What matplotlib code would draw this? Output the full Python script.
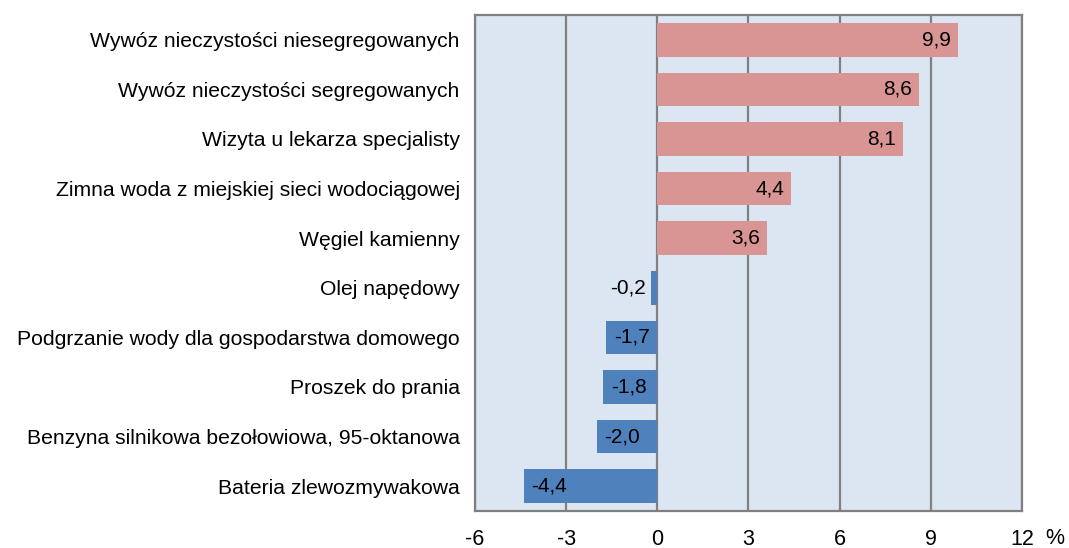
import matplotlib.pyplot as plt

categories = [
    "Wywóz nieczystości niesegregowanych",
    "Wywóz nieczystości segregowanych",
    "Wizyta u lekarza specjalisty",
    "Zimna woda z miejskiej sieci wodociągowej",
    "Węgiel kamienny",
    "Olej napędowy",
    "Podgrzanie wody dla gospodarstwa domowego",
    "Proszek do prania",
    "Benzyna silnikowa bezołowiowa, 95-oktanowa",
    "Bateria zlewozmywakowa",
]
values = [9.9, 8.6, 8.1, 4.4, 3.6, -0.2, -1.7, -1.8, -2.0, -4.4]
xticks = [-6, -3, 0, 3, 6, 9, 12]

plt.rcParams['font.family'] = ['Liberation Sans', 'DejaVu Sans']

fig = plt.figure(figsize=(10.69, 5.48), dpi=100)
ax = fig.add_axes([475 / 1069, 1 - 511 / 548, (1022 - 475) / 1069, (511 - 15) / 548])

pos = list(range(len(categories)))[::-1]
colors = ['#d99594' if v > 0 else '#4f81bd' for v in values]
ax.set_facecolor('#dce6f2')
ax.barh(pos, values, height=0.68, color=colors, zorder=3)

for p, v in zip(pos, values):
    txt = f"{v:.1f}".replace('.', ',')
    if v > 0:
        ax.annotate(txt, (v, p), xytext=(-7, 0), textcoords='offset pixels',
                    ha='right', va='center', fontsize=15, zorder=4)
    elif v > -1:
        ax.annotate(txt, (v, p), xytext=(-5, 0), textcoords='offset pixels',
                    ha='right', va='center', fontsize=15, zorder=4)
    else:
        ax.annotate(txt, (v, p), xytext=(8, 0), textcoords='offset pixels',
                    ha='left', va='center', fontsize=15, zorder=4)

ax.set_xlim(-6, 12)
ax.set_ylim(-0.5, len(categories) - 0.5)
ax.set_xticks(xticks)
ax.set_xticklabels([str(t) for t in xticks], fontsize=15.5)
ax.set_yticks(pos)
ax.set_yticklabels(categories, fontsize=15.2)
ax.tick_params(axis='both', length=0)
ax.tick_params(axis='x', pad=13)
ax.tick_params(axis='y', pad=11)
ax.grid(axis='x', color='#808080', linewidth=1.6, zorder=1)
for s in ax.spines.values():
    s.set_color('#808080')
    s.set_linewidth(1.6)
ax.text(1055 / 1069, 1 - 538 / 548, "%", transform=fig.transFigure, fontsize=15.5,
        ha='center', va='center')

fig.savefig('out.png', dpi=100)
